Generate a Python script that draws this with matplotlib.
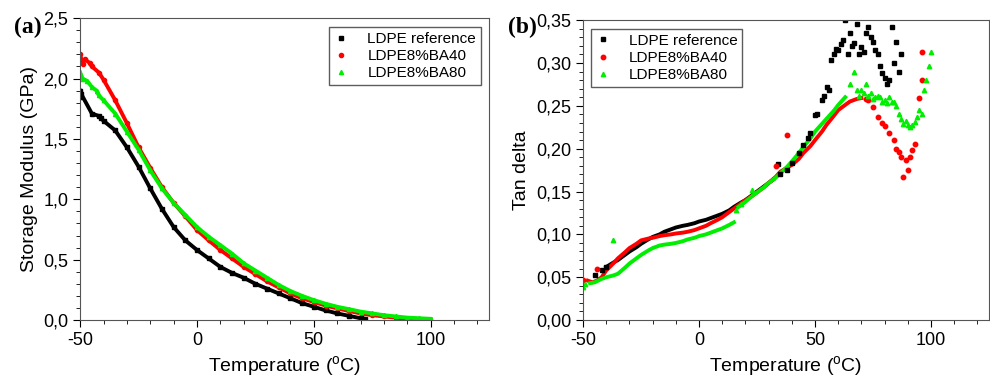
import matplotlib
matplotlib.use("Agg")
import matplotlib.pyplot as plt
from matplotlib.ticker import MultipleLocator, FuncFormatter

plt.rcParams['font.family'] = ['Liberation Sans', 'DejaVu Sans']
plt.rcParams['mathtext.default'] = 'regular'
plt.rcParams['axes.unicode_minus'] = False

# (a) storage modulus, GPa
t_ref_a = [-50, -50, -49.5, -45, -42, -41, -40, -35, -30, -25, -20, -15, -10, -5, 0, 5, 10, 15, 20, 25, 30, 35, 40, 45, 50, 55, 60, 65, 70, 72]
e_ref = [1.90, 1.85, 1.87, 1.71, 1.69, 1.67, 1.65, 1.57, 1.43, 1.27, 1.09, 0.92, 0.77, 0.66, 0.58, 0.51, 0.44, 0.39, 0.35, 0.30, 0.26, 0.22, 0.18, 0.14, 0.11, 0.08, 0.055, 0.035, 0.015, 0.01]
t_ba40_a = [-50, -49, -48, -46, -45, -42, -40, -35, -30, -25, -20, -15, -10, -5, 0, 5, 10, 15, 20, 25, 30, 35, 40, 45, 50, 55, 60, 65, 70, 75, 80, 85, 90, 92]
e_ba40 = [2.20, 2.12, 2.16, 2.13, 2.10, 2.05, 1.99, 1.82, 1.63, 1.43, 1.26, 1.10, 0.97, 0.86, 0.745, 0.66, 0.58, 0.51, 0.44, 0.38, 0.32, 0.27, 0.22, 0.18, 0.15, 0.12, 0.097, 0.075, 0.055, 0.04, 0.03, 0.02, 0.01, 0.008]
t_ba80_a = [-50, -49, -47, -45, -43, -42, -40, -35, -30, -25, -20, -15, -10, -5, 0, 5, 10, 15, 20, 25, 30, 35, 40, 45, 50, 55, 60, 65, 70, 75, 80, 85, 90, 95, 100]
e_ba80 = [2.05, 2.00, 1.98, 1.93, 1.90, 1.86, 1.82, 1.71, 1.56, 1.41, 1.24, 1.09, 0.97, 0.87, 0.77, 0.69, 0.62, 0.55, 0.47, 0.41, 0.35, 0.29, 0.24, 0.20, 0.165, 0.135, 0.11, 0.09, 0.07, 0.055, 0.04, 0.03, 0.02, 0.015, 0.01]

# (b) tan delta: smooth part of each curve
t_ref_s = [-40, -37, -35, -32, -30, -27, -25, -22, -20, -17, -15, -12, -10, -7, -5, -2, 0, 3, 5, 8, 10, 13, 15, 18, 20, 23, 25, 28, 30, 32]
tan_ref_s = [0.062, 0.067, 0.07, 0.076, 0.08, 0.085, 0.089, 0.094, 0.097, 0.1, 0.103, 0.106, 0.108, 0.11, 0.111, 0.113, 0.115, 0.117, 0.119, 0.122, 0.124, 0.128, 0.132, 0.137, 0.14, 0.146, 0.15, 0.156, 0.16, 0.164]
t_ba40_s = [-48, -46, -44, -42, -40, -37, -35, -32, -30, -27, -25, -22, -20, -17, -15, -12, -10, -7, -5, -2, 0, 3, 5, 8, 10, 13, 15, 18, 20, 23, 25, 28, 30, 33, 35, 38, 40, 43, 45, 48, 50, 53, 55, 58, 60, 63, 65, 68, 70]
tan_ba40_s = [0.046, 0.044, 0.046, 0.05, 0.058, 0.066, 0.072, 0.079, 0.084, 0.089, 0.093, 0.095, 0.096, 0.098, 0.099, 0.1, 0.101, 0.102, 0.103, 0.105, 0.107, 0.11, 0.113, 0.117, 0.12, 0.126, 0.13, 0.136, 0.14, 0.145, 0.149, 0.155, 0.16, 0.167, 0.173, 0.178, 0.181, 0.188, 0.195, 0.203, 0.21, 0.22, 0.228, 0.238, 0.245, 0.251, 0.255, 0.258, 0.259]
t_ba80_s = [-47, -45, -42, -40, -37, -35, -32, -30, -27, -25, -22, -20, -17, -15, -12, -10, -7, -5, -2, 0, 3, 5, 8, 10, 13, 15]
tan_ba80_s = [0.043, 0.044, 0.048, 0.05, 0.052, 0.054, 0.061, 0.066, 0.072, 0.076, 0.081, 0.084, 0.087, 0.088, 0.089, 0.09, 0.092, 0.094, 0.096, 0.098, 0.1, 0.102, 0.105, 0.107, 0.111, 0.114]
t_ba80_s2 = [17, 20, 23, 25, 28, 30, 33, 35, 38, 40, 43, 45, 48, 50, 53, 55, 58, 60, 63]
tan_ba80_s2 = [0.132, 0.138, 0.145, 0.149, 0.155, 0.16, 0.166, 0.171, 0.179, 0.185, 0.195, 0.202, 0.212, 0.22, 0.229, 0.235, 0.244, 0.251, 0.26]

# (b) tan delta: scattered points
t_ref_p = [-45, -42, -40, 34, 35, 38, 40, 43, 45, 47, 48, 50, 51, 53, 54, 55, 56, 57, 58, 59, 60, 61, 62, 63, 64, 65, 66, 67, 68, 69, 70, 71, 72, 73, 74, 75, 76, 77, 78, 79, 80, 81, 82, 83, 84, 85, 86, 87]
tan_ref_p = [0.053, 0.058, 0.062, 0.182, 0.171, 0.175, 0.183, 0.195, 0.204, 0.212, 0.218, 0.239, 0.24, 0.257, 0.262, 0.272, 0.268, 0.303, 0.31, 0.316, 0.315, 0.322, 0.327, 0.35, 0.31, 0.335, 0.32, 0.323, 0.345, 0.31, 0.319, 0.313, 0.335, 0.342, 0.33, 0.325, 0.315, 0.31, 0.296, 0.288, 0.282, 0.276, 0.28, 0.342, 0.30, 0.325, 0.29, 0.31]
t_ba40_p = [-50, -44, 33, 38, 72, 73, 75, 77, 79, 80, 82, 84, 85, 86, 87, 88, 89, 90, 91, 92, 93, 95, 96, 96]
tan_ba40_p = [0.047, 0.06, 0.18, 0.216, 0.258, 0.257, 0.249, 0.237, 0.23, 0.226, 0.218, 0.21, 0.2, 0.196, 0.19, 0.167, 0.187, 0.175, 0.19, 0.198, 0.206, 0.259, 0.28, 0.313]
t_ba80_p = [-50, -49, -37, 16, 18, 23, 65, 67, 68, 69, 70, 71, 72, 73, 74, 75, 76, 77, 78, 79, 80, 81, 82, 83, 84, 85, 86, 87, 88, 89, 90, 91, 92, 93, 94, 95, 96, 97, 98, 99, 100]
tan_ba80_p = [0.039, 0.042, 0.093, 0.128, 0.136, 0.152, 0.276, 0.29, 0.268, 0.262, 0.268, 0.265, 0.276, 0.262, 0.265, 0.258, 0.26, 0.262, 0.26, 0.255, 0.257, 0.253, 0.26, 0.255, 0.255, 0.25, 0.241, 0.235, 0.229, 0.232, 0.228, 0.225, 0.228, 0.231, 0.237, 0.245, 0.24, 0.268, 0.28, 0.296, 0.313]

labels = ['LDPE reference', 'LDPE8%BA40', 'LDPE8%BA80']
cols = ['black', '#ff0000', '#00ee00']
marks = ['s', 'o', '^']

fig = plt.figure(figsize=(9.9, 3.87), dpi=100)
ax1 = fig.add_axes([0.081, 0.173, 0.413, 0.78])
ax2 = fig.add_axes([0.589, 0.173, 0.41, 0.775])

for t, v, c, m, l in zip([t_ref_a, t_ba40_a, t_ba80_a], [e_ref, e_ba40, e_ba80], cols, marks, labels):
    ax1.plot(t, v, '-', color=c, lw=2.8)
    ax1.plot(t, v, m, color=c, ms=3, label=l)

ax2.plot(t_ref_s, tan_ref_s, '-', color=cols[0], lw=2.8)
ax2.plot(t_ba40_s, tan_ba40_s, '-', color=cols[1], lw=2.8)
ax2.plot(t_ba80_s, tan_ba80_s, '-', color=cols[2], lw=2.8)
ax2.plot(t_ba80_s2, tan_ba80_s2, '-', color=cols[2], lw=2.8)
for t, v, c, m, l in zip([t_ref_p, t_ba40_p, t_ba80_p], [tan_ref_p, tan_ba40_p, tan_ba80_p], cols, marks, labels):
    ax2.plot(t, v, m, color=c, ms=3.2, label=l)

ax1.set_ylim(0, 2.5)
ax2.set_ylim(0, 0.35)
for ax in (ax1, ax2):
    ax.set_xlim(-50, 125)
    ax.xaxis.set_major_locator(MultipleLocator(50))
    ax.xaxis.set_minor_locator(MultipleLocator(10))
    ax.tick_params(which='both', direction='out', top=False, right=False, labelsize=13)
    ax.tick_params(which='major', length=5)
    ax.tick_params(which='minor', length=3)
    ax.set_xlabel('Temperature ($^{o}$C)', fontsize=14)
    for s in ax.spines.values():
        s.set_color('#555555')

ax1.legend(fontsize=11, loc='upper left', bbox_to_anchor=(0.59, 0.995), fancybox=False,
           edgecolor='#333333', handlelength=1.0, handletextpad=1.2, borderpad=0.3, labelspacing=0.2)
ax2.legend(fontsize=11, loc='upper left', bbox_to_anchor=(0.0, 0.995), fancybox=False,
           edgecolor='#333333', handlelength=1.0, handletextpad=1.2, borderpad=0.3, labelspacing=0.2)

ax1.yaxis.set_major_locator(MultipleLocator(0.5))
ax1.yaxis.set_minor_locator(MultipleLocator(0.1))
ax1.yaxis.set_major_formatter(FuncFormatter(lambda v, p: f'{v:.1f}'.replace('.', ',')))
ax2.yaxis.set_major_locator(MultipleLocator(0.05))
ax2.yaxis.set_minor_locator(MultipleLocator(0.01))
ax2.yaxis.set_major_formatter(FuncFormatter(lambda v, p: f'{v:.2f}'.replace('.', ',')))
ax1.set_ylabel('Storage Modulus (GPa)', fontsize=14)
ax2.set_ylabel('Tan delta', fontsize=14)

fig.text(0.014, 0.915, '(a)', fontsize=17, fontweight='bold', family='Liberation Serif')
fig.text(0.513, 0.915, '(b)', fontsize=17, fontweight='bold', family='Liberation Serif')

fig.savefig('out.png', dpi=100)
